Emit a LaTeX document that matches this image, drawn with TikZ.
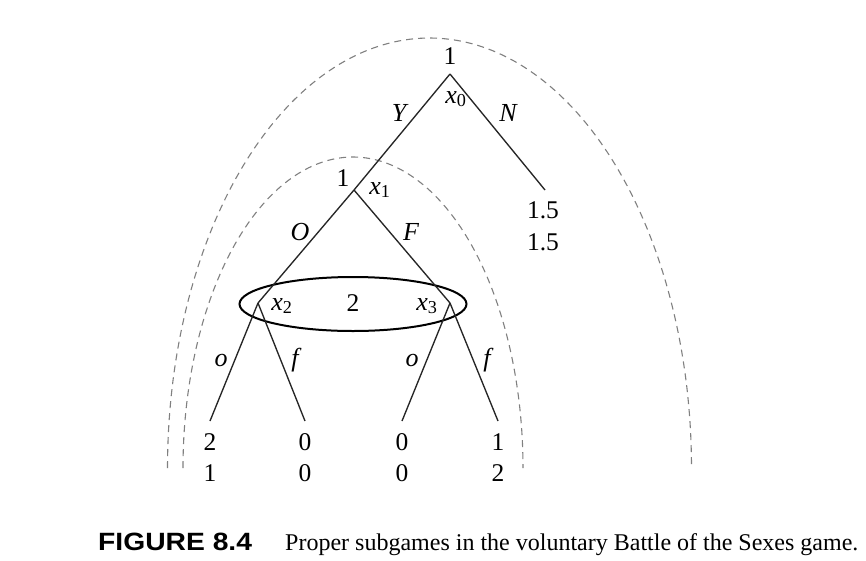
\documentclass[tikz,border=0pt]{standalone}
\usepackage{fontspec}
\setmainfont{Liberation Serif}
\newfontfamily\capsans{Liberation Sans}
\usetikzlibrary{shapes.geometric}
\begin{document}
\begin{tikzpicture}[x=1pt,y=-1pt,
  every node/.style={font=\fontsize{25.5}{31}\selectfont, inner sep=0pt},
  branch/.style={line width=1.35pt, black!85},
  subgame/.style={draw=black!50, line width=1.1pt, dash pattern=on 7pt off 5pt},
  lbl/.style={font=\fontsize{26}{31}\selectfont\itshape},
  pay/.style={align=center},
  infoset/.style={draw, ellipse, line width=2pt, minimum width=227pt, minimum height=54pt}]
\useasboundingbox (0,0) rectangle (866,560);
% subgame boundaries
\draw[subgame] plot[domain=180:360, samples=150, variable=\t] ({429.5+262*cos(\t)}, {468+430*sin(\t)});
\draw[subgame] plot[domain=180:360, samples=150, variable=\t] ({353+170*cos(\t)}, {468+311*sin(\t)});
% vertices
\coordinate (x0) at (450,74);
\coordinate (x1) at (354,190);
\coordinate (nend) at (545,190);
\coordinate (x2) at (258,303);
\coordinate (x3) at (450,303);
\coordinate (l1) at (210,421);
\coordinate (l2) at (305,421);
\coordinate (l3) at (402,421);
\coordinate (l4) at (498,421);
% information set
\node[infoset] (info) at (353,304) {};
% branches
\draw[branch] (x0) -- (x1);
\draw[branch] (x0) -- (nend);
\draw[branch] (x1) -- (x2);
\draw[branch] (x1) -- (x3);
\draw[branch] (x2) -- (l1);
\draw[branch] (x2) -- (l2);
\draw[branch] (x3) -- (l3);
\draw[branch] (x3) -- (l4);
% labels
\node (p0) at (450,56) {1};
\node[lbl] (x0lab) at (456,99) {x\textsubscript{\upshape 0}};
\node[lbl] (Ylab) at (399,113) {Y};
\node[lbl] (Nlab) at (508,113) {N};
\node (p1) at (343,178) {1};
\node[lbl] (x1lab) at (380,190) {x\textsubscript{\upshape 1}};
\node[lbl] (Olab) at (300,232) {O};
\node[lbl] (Flab) at (411,232) {F};
\node (p2) at (353,303) {2};
\node[lbl] (x2lab) at (282,306) {x\textsubscript{\upshape 2}};
\node[lbl] (x3lab) at (427,306) {x\textsubscript{\upshape 3}};
\node[lbl] (o1) at (221,360) {o};
\node[lbl] (f1) at (295,360) {f};
\node[lbl] (o2) at (412,360) {o};
\node[lbl] (f2) at (487,360) {f};
% payoffs
\node[pay] (u1) at (210,458) {2\\1};
\node[pay] (u2) at (305,458) {0\\0};
\node[pay] (u3) at (402,458) {0\\0};
\node[pay] (u4) at (498,458) {1\\2};
\node[pay, font=\fontsize{25.5}{32}\selectfont] (uN) at (543,226) {1.5\\1.5};
% caption
\node[anchor=base west, font=\fontsize{25}{30}\selectfont] (fig) at (98,550) {\capsans\bfseries\scalebox{1.13}[1]{FIGURE 8.4}};
\node[anchor=base west, font=\fontsize{24}{30}\selectfont] (cap) at (285,550) {Proper subgames in the voluntary Battle of the Sexes game.};
\end{tikzpicture}
\end{document}
